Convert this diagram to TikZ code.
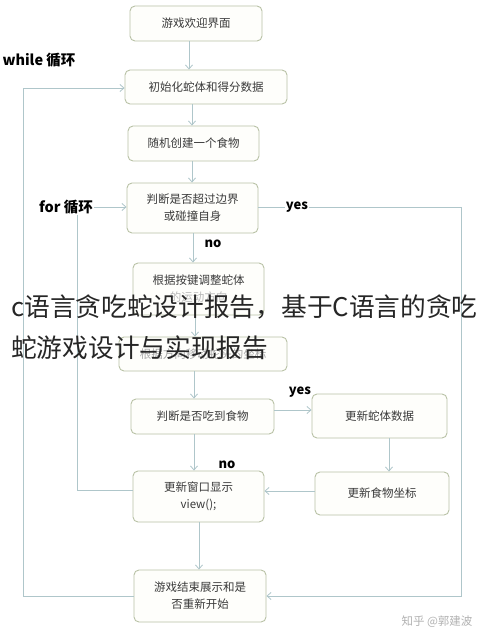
\documentclass[tikz,border=0pt]{standalone}
\usepackage{fontspec}
\setmainfont{Noto Sans CJK SC}
\usetikzlibrary{arrows.meta}
\definecolor{boxline}{HTML}{B9C2A6}
\definecolor{boxfill}{HTML}{FEFEFB}
\definecolor{arr}{HTML}{AFC6CA}
\definecolor{txt}{HTML}{3A3A3A}
\tikzset{
  flowbox/.style={draw=boxline, line width=0.9pt, fill=boxfill, rounded corners=5pt, align=center, font=\fontsize{11.5}{17}\selectfont, text=txt, inner sep=0pt},
  conn/.style={draw=arr, line width=0.8pt, -{Straight Barb[length=4pt,width=7pt]}},
  lbl/.style={font=\bfseries\fontsize{13}{15}\selectfont, text=black, inner sep=1pt},
  looplbl/.style={font=\bfseries\fontsize{14.5}{16}\selectfont, text=black, inner sep=1pt, fill=white},
  overlay/.style={font=\fontsize{25.7}{28}\selectfont, text=black!85, anchor=west, inner sep=0pt},
}
\begin{document}
\begin{tikzpicture}[x=1pt,y=-1pt]
\useasboundingbox[fill=white] (0,0) rectangle (490,639);
% boxes
\node[flowbox, minimum width=132pt, minimum height=35pt] (b1) at (196,23.5) {游戏欢迎界面};
\node[flowbox, minimum width=162pt, minimum height=34pt] (b2) at (206,87) {初始化蛇体和得分数据};
\node[flowbox, minimum width=131pt, minimum height=35pt] (b3) at (193.5,143.5) {随机创建一个食物};
\node[flowbox, minimum width=131pt, minimum height=50pt] (b4) at (192.5,208) {判断是否超过边界\\或碰撞自身};
\node[flowbox, minimum width=131pt, minimum height=52pt] (b5) at (198.5,289) {根据按键调整蛇体\\\textcolor{txt!35}{的运动方向}};
\node[flowbox, minimum width=168pt, minimum height=34pt, text=txt!45] (b6) at (203,354) {根据方向移动蛇头的坐标};
\node[flowbox, minimum width=143pt, minimum height=35pt] (b7) at (202.5,416.5) {判断是否吃到食物};
\node[flowbox, minimum width=135pt, minimum height=44pt] (b8) at (379.5,416) {更新蛇体数据};
\node[flowbox, minimum width=131pt, minimum height=51pt] (b9) at (198.5,496.5) {更新窗口显示\\view();};
\node[flowbox, minimum width=134pt, minimum height=43pt] (b10) at (382,493.5) {更新食物坐标};
\node[flowbox, minimum width=132pt, minimum height=52pt] (b11) at (200,596) {游戏结束展示和是\\否重新开始};
% loop corner coordinates
\coordinate (wl) at (23,596);
\coordinate (wu) at (23,88);
\coordinate (fl) at (77,490);
\coordinate (fu) at (77,207);
\coordinate (yr) at (461,207);
\coordinate (yd) at (461,596);
% straight connectors
\draw[conn] (b1.south -| 189,0) -- (b2.north -| 189,0);
\draw[conn] (b2.south -| 192,0) -- (b3.north -| 192,0);
\draw[conn] (b3.south -| 192,0) -- (b4.north -| 192,0);
\draw[conn] (b4.south -| 193,0) -- (b5.north -| 193,0);
\draw[conn] (b5.south -| 195,0) -- (b6.north -| 195,0);
\draw[conn] (b6.south -| 194,0) -- (b7.north -| 194,0);
\draw[conn] (b7.east |- 0,410) -- (b8.west |- 0,410);
\draw[conn] (b7.south -| 194,0) -- (b9.north -| 194,0);
\draw[conn] (b8.south -| 389,0) -- (b10.north -| 389,0);
\draw[conn] (b10.west |- 0,491) -- (b9.east |- 0,491);
\draw[conn] (b9.south -| 199,0) -- (b11.north -| 199,0);
% loops
\draw[conn] (b11.west) -- (wl) -- (wu) -- (b2.west |- wu);
\draw[conn] (b9.west |- fl) -- (fl) -- (fu) -- (b4.west |- fu);
\draw[conn] (b4.east |- yr) -- (yr) -- (yd) -- (b11.east |- yd);
% labels
\node[looplbl] (lwhile) at (39,60) {while 循环};
\node[looplbl] (lfor) at (66,207) {for 循环};
\node[lbl, fill=white] (lyes1) at (297,207) {yes};
\node[lbl] (lno1) at (213,244) {no};
\node[lbl] (lyes2) at (300,392) {yes};
\node[lbl] (lno2) at (227,465) {no};
% watermark
\node[font=\fontsize{11.5}{13}\selectfont, text=black!30] (wm) at (437,622) {知乎 @郭建波};
% overlay caption
\node[overlay] (cap1) at (11,307) {c语言贪吃蛇设计报告，基于C语言的贪吃};
\node[overlay] (cap2) at (11,348) {蛇游戏设计与实现报告};
\end{tikzpicture}
\end{document}
